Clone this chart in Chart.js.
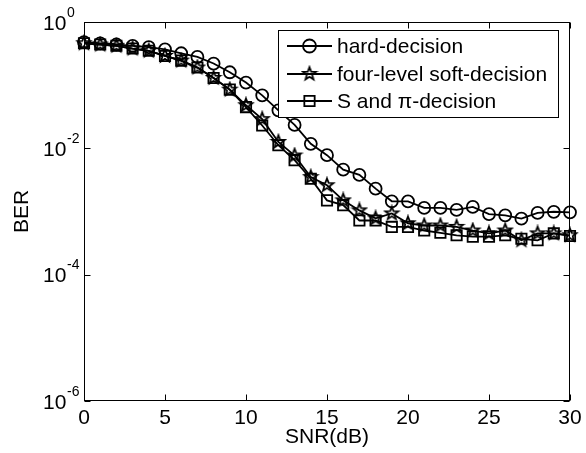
<!DOCTYPE html>
<html>
<head>
<meta charset="utf-8">
<script src="https://cdn.jsdelivr.net/npm/chart.js@4/dist/chart.umd.min.js"></script>
<style>
  html, body { margin: 0; padding: 0; background: #fff; }
  #wrap { width: 586px; height: 453px; }
</style>
</head>
<body>
<div id="wrap"><canvas id="berchart" width="586" height="453"></canvas></div>
<script>
// SNR points (dB)
const snr = [0, 1, 2, 3, 4, 5, 6, 7, 8, 9, 10, 11, 12, 13, 14, 15, 16, 17, 18, 19, 20,
  21, 22, 23, 24, 25, 26, 27, 28, 29, 30];

// BER values
const hardDecision = [0.48, 0.46, 0.44, 0.42, 0.40, 0.37, 0.32, 0.28, 0.22, 0.16, 0.11,
  0.069, 0.040, 0.0235, 0.0118, 0.0078, 0.0046, 0.0038, 0.0023, 0.00145, 0.00145,
  0.00114, 0.00114, 0.00106, 0.00118, 0.00091, 0.00087, 0.00077, 0.00095, 0.00099, 0.00097];
const fourLevel = [0.46, 0.44, 0.42, 0.38, 0.35, 0.29, 0.245, 0.19, 0.13, 0.085, 0.048,
  0.029, 0.0126, 0.0077, 0.0035, 0.0026, 0.0015, 0.00104, 0.00078, 0.00093, 0.00065,
  0.0006, 0.0006, 0.00057, 0.0005, 0.00045, 0.0005, 0.00035, 0.00045, 0.00045, 0.00042];
const sPiDecision = [0.46, 0.44, 0.42, 0.38, 0.35, 0.29, 0.245, 0.19, 0.13, 0.085, 0.045,
  0.023, 0.0112, 0.0065, 0.0033, 0.0015, 0.00126, 0.00072, 0.00072, 0.00057, 0.00057,
  0.0005, 0.00046, 0.00042, 0.0004, 0.0004, 0.00042, 0.00037, 0.00035, 0.00045, 0.00041];

const seriesNames = ["hard-decision", "four-level soft-decision", "S and \u03C0-decision"];
const xTicks = [0, 5, 10, 15, 20, 25, 30];
const yTickExp = [0, -2, -4, -6];

const FONT = 'Arial, "Liberation Sans", sans-serif';

// pentagram marker like matlab's 'p'
function starCanvas(r) {
  const s = Math.ceil(2 * r + 4);
  const c = document.createElement("canvas");
  c.width = s; c.height = s;
  const g = c.getContext("2d");
  g.beginPath();
  for (let i = 0; i < 10; i++) {
    const rad = i % 2 === 0 ? r : r * 0.42;
    const ang = -Math.PI / 2 + i * Math.PI / 5;
    g.lineTo(s / 2 + rad * Math.cos(ang), s / 2 + rad * Math.sin(ang));
  }
  g.closePath();
  g.lineWidth = 1.8;
  g.lineJoin = "miter";
  g.strokeStyle = "#000";
  g.stroke();
  return c;
}
const star = starCanvas(6.8);

function pts(vals) {
  return snr.map((s, i) => ({ x: s, y: vals[i] }));
}

const styles = [
  { pointStyle: "circle", pointRadius: 6 },
  { pointStyle: star, pointRadius: 6 },
  { pointStyle: "rect", pointRadius: 7.3 },
];

const frame = {
  id: "frame",
  afterDraw(chart) {
    const { ctx, chartArea: a } = chart;
    const xs = chart.scales.x, ys = chart.scales.y;
    ctx.save();
    ctx.strokeStyle = "#000";
    ctx.fillStyle = "#000";
    ctx.lineWidth = 1;
    const L = Math.round(a.left) + 0.5, R = Math.round(a.right) - 0.5;
    const T = Math.round(a.top) + 0.5, B = Math.round(a.bottom) - 0.5;
    ctx.strokeRect(L, T, R - L, B - T);

    // ticks pointing in
    ctx.beginPath();
    xTicks.forEach(v => {
      const px = Math.round(xs.getPixelForValue(v)) + 0.5;
      ctx.moveTo(px, B); ctx.lineTo(px, B - 6);
      ctx.moveTo(px, T); ctx.lineTo(px, T + 6);
    });
    yTickExp.forEach(e => {
      const py = Math.round(ys.getPixelForValue(Math.pow(10, e))) + 0.5;
      ctx.moveTo(L, py); ctx.lineTo(L + 6, py);
      ctx.moveTo(R, py); ctx.lineTo(R - 6, py);
    });
    ctx.stroke();

    // x tick labels
    ctx.font = "21px " + FONT;
    ctx.textAlign = "center";
    ctx.textBaseline = "alphabetic";
    xTicks.forEach(v => {
      ctx.fillText(String(v), xs.getPixelForValue(v), 424);
    });

    // y tick labels 10^n
    yTickExp.forEach(e => {
      const py = ys.getPixelForValue(Math.pow(10, e));
      ctx.font = "21px " + FONT;
      ctx.textAlign = "left";
      ctx.fillText("10", 43, py + 7.5);
      ctx.font = "14px " + FONT;
      ctx.fillText(String(e), 67, py - 5.5);
    });

    // axis titles
    ctx.font = "21px " + FONT;
    ctx.textAlign = "center";
    ctx.fillText("SNR(dB)", (a.left + a.right) / 2, 443);
    ctx.save();
    ctx.translate(28, (a.top + a.bottom) / 2);
    ctx.rotate(-Math.PI / 2);
    ctx.fillText("BER", 0, 0);
    ctx.restore();

    // legend box
    ctx.fillStyle = "#fff";
    ctx.fillRect(278.5, 30.5, 280, 87);
    ctx.strokeRect(278.5, 30.5, 280, 87);
    const rows = [46, 74, 101];
    ctx.lineWidth = 1.8;
    rows.forEach((ry, i) => {
      ctx.strokeStyle = "#000";
      ctx.beginPath();
      ctx.moveTo(287, ry); ctx.lineTo(332, ry);
      ctx.stroke();
      ctx.fillStyle = "rgba(0,0,0,0)";
      Chart.helpers.drawPoint(ctx, {
        pointStyle: styles[i].pointStyle,
        radius: i === 0 ? 6.5 : styles[i].pointRadius,
        borderWidth: 1.8,
        rotation: 0,
      }, 309.5, ry);
      ctx.fillStyle = "#000";
      ctx.font = "21px " + FONT;
      ctx.textAlign = "left";
      ctx.textBaseline = "middle";
      ctx.fillText(seriesNames[i], 337, ry + 1);
    });
    ctx.restore();
  },
};

const ctx = document.getElementById("berchart").getContext("2d");
const berchart = new Chart(ctx, {
  type: "line",
  data: {
    datasets: [hardDecision, fourLevel, sPiDecision].map((vals, i) => ({
      label: seriesNames[i],
      data: pts(vals),
      borderColor: "#000",
      borderWidth: 1.8,
      pointStyle: styles[i].pointStyle,
      pointRadius: styles[i].pointRadius,
      pointBorderColor: "#000",
      pointBorderWidth: 1.8,
      pointBackgroundColor: "rgba(0,0,0,0)",
      tension: 0,
      fill: false,
      clip: false,
    })),
  },
  options: {
    responsive: false,
    animation: false,
    events: [],
    layout: { padding: { left: 84, right: 16, top: 22, bottom: 52 } },
    scales: {
      x: { type: "linear", min: 0, max: 30, display: false },
      y: { type: "logarithmic", min: 1e-6, max: 1, display: false },
    },
    plugins: {
      legend: { display: false },
      tooltip: { enabled: false },
    },
  },
  plugins: [frame],
});
</script>
</body>
</html>
